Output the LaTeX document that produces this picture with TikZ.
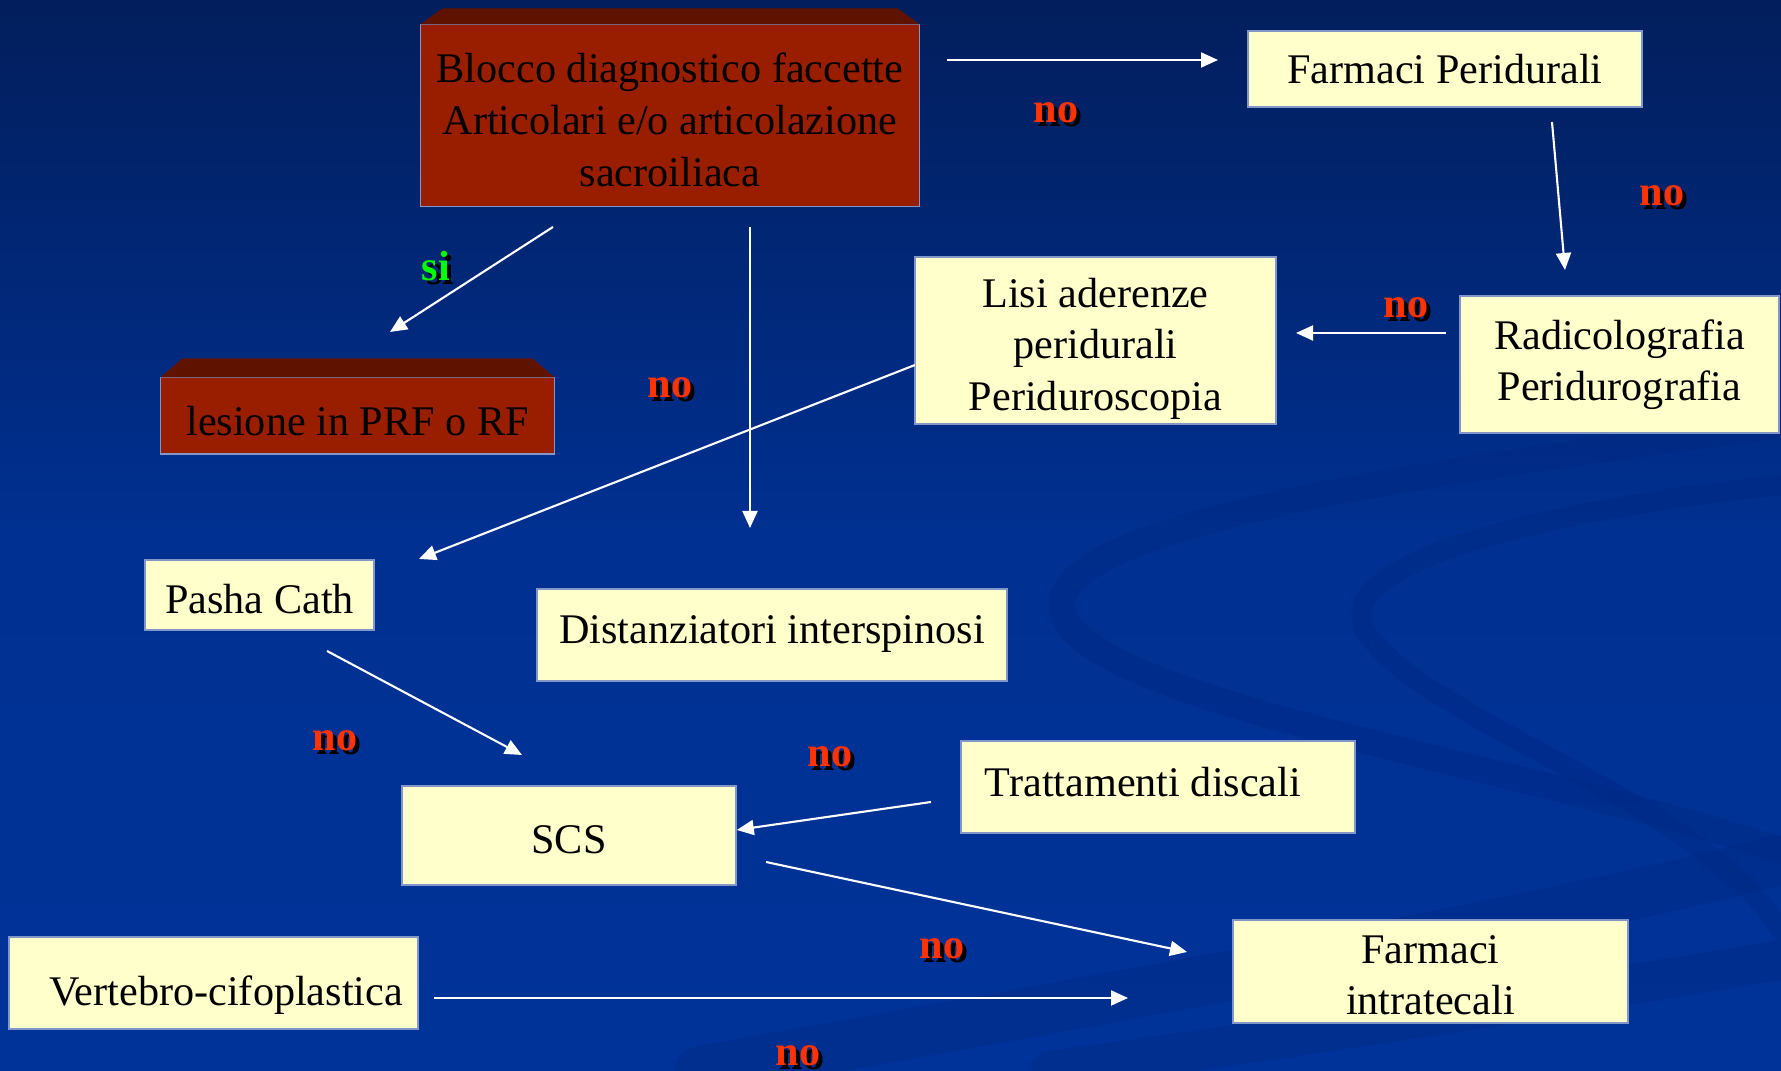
\documentclass[tikz,border=0pt]{standalone}
\usepackage{fontspec}
\setmainfont{Liberation Serif}
\usepackage{tikz}
\usetikzlibrary{arrows.meta,calc}
\definecolor{bg_top}		{RGB}{2,30,92}
\definecolor{bg_mid}		{RGB}{0,48,145}
\definecolor{bg_bot}		{RGB}{0,51,153}
\definecolor{swirl_blue}	{RGB}{0,38,125}
\definecolor{cream_yellow}	{RGB}{255,255,204}
\definecolor{box_edge}		{RGB}{130,150,200}
\definecolor{brick_red}		{RGB}{153,30,0}
\definecolor{brick_top}		{RGB}{96,18,0}
\definecolor{no_red}		{RGB}{255,51,0}
\definecolor{si_green}		{RGB}{0,255,0}
\newcommand{\shtext}[1]{\makebox[0pt][l]{\kern1.2pt\raisebox{-1.2pt}{\color{black}#1}}#1}
\newcommand{\txt}[2][0pt]{\raisebox{-#1}[\height][\depth]{\begin{tabular}{@{}c@{}}#2\end{tabular}}}

\begin{document}
\begin{tikzpicture}[x=0.01cm, y=-0.01cm,
		boxY/.style   = {draw = box_edge,
			rectangle,
			fill           = cream_yellow,
			align          = center,
			line width     = 0.4pt,
			font = \fontsize{12}{14.6}\selectfont,
			inner sep      = 0pt},
		boxR/.style   = {draw = box_edge,
			rectangle,
			fill           = brick_red,
			align          = center,
			line width     = 0.3pt,
			font = \fontsize{12}{14.8}\selectfont,
			inner sep      = 0pt},
		lblNo/.style  = {font = \fontsize{12}{14}\selectfont\bfseries, text = no_red},
		lblSi/.style  = {font = \fontsize{12}{14}\selectfont\bfseries, text = si_green},
		arr/.style    = {draw = white, line width = 0.6pt,
			-{Triangle[length=0.17cm, width=0.15cm]}}]
		
		% background
		\useasboundingbox (0,0) rectangle (1781,1071);
		\shade[top color=bg_top, bottom color=bg_bot, middle color=bg_mid] (0,0) rectangle (1781,1071);
		\begin{scope}[swirl_blue, opacity=0.3, line cap=round]
			\draw[line width=0.26cm] (1781,425) .. controls (1450,470) and (1050,520) .. (1062,610)
				.. controls (1080,700) and (1500,760) .. (1781,850);
			\draw[line width=0.2cm] (1781,485) .. controls (1550,510) and (1330,560) .. (1365,630)
				.. controls (1420,720) and (1700,800) .. (1781,930);
			\draw[line width=0.5cm] (700,1071) .. controls (1100,1000) and (1500,930) .. (1781,860);
			\draw[line width=0.4cm] (1050,1071) .. controls (1350,1030) and (1600,990) .. (1781,960);
		\end{scope}
		
		% red blocks
		\node[boxR, minimum width=4.98cm, minimum height=1.81cm] (blocco) at (670,115.5)
		{\txt[0.09cm]{Blocco diagnostico faccette \\ Articolari e/o articolazione \\ sacroiliaca}};
		\fill[brick_top] (blocco.north west) -- ++(22,-16) -- ($(blocco.north east)+(-22,-16)$)
			-- (blocco.north east) -- cycle;
		
		\node[boxR, minimum width=3.93cm, minimum height=0.76cm] (lesione) at (357.5,416)
		{\txt[0.09cm]{lesione in PRF o RF}};
		\fill[brick_top] (lesione.north west) -- ++(22,-19) -- ($(lesione.north east)+(-22,-19)$)
			-- (lesione.north east) -- cycle;
		
		% yellow blocks
		\node[boxY, minimum width=3.94cm, minimum height=0.76cm] (farmp) at (1445,69)
		{Farmaci Peridurali};
		\node[boxY, minimum width=3.19cm, minimum height=1.37cm] (radico) at (1619.5,364.5)
		{Radicolografia \\ Peridurografia};
		\node[boxY, minimum width=3.61cm, minimum height=1.67cm] (lisi) at (1095.5,340.5)
		{\txt[0.08cm]{Lisi aderenze \\ peridurali \\ Periduroscopia}};
		\node[boxY, minimum width=2.29cm, minimum height=0.70cm] (pasha) at (259.5,595)
		{\txt[0.08cm]{Pasha Cath}};
		\node[boxY, minimum width=4.70cm, minimum height=0.92cm] (distanz) at (772,635)
		{\txt[-0.02cm]{Distanziatori interspinosi}};
		\node[boxY, minimum width=3.94cm, minimum height=0.92cm] (tratt) at (1158,787)
		{\txt[-0.01cm]{Trattamenti discali}\hspace*{0.3cm}};
		\node[boxY, minimum width=3.34cm, minimum height=0.99cm] (scs) at (569,835.5)
		{\txt[0.08cm]{SCS}};
		\node[boxY, minimum width=4.09cm, minimum height=0.92cm] (vertebro) at (213.5,983)
		{\hspace*{0.25cm}\txt[0.125cm]{Vertebro-cifoplastica}};
		\node[boxY, minimum width=3.95cm, minimum height=0.99cm] (farmi) at (1430.5,971.5)
		{\txt[0.075cm]{Farmaci \\ intratecali}};
		
		% arrow ends
		\coordinate (a0) at (947,60);   \coordinate (b0) at (1218,60);
		\coordinate (a1) at (1552,122); \coordinate (b1) at (1565,270);
		\coordinate (a2) at (1446,333); \coordinate (b2) at (1296,333);
		\coordinate (a3) at (553,227);  \coordinate (b3) at (390,332);
		\coordinate (a4) at (750,227);  \coordinate (b4) at (750,528);
		\coordinate (a5) at (915,365);  \coordinate (b5) at (419,559);
		\coordinate (a6) at (327,651);  \coordinate (b6) at (522,755);
		\coordinate (a7) at (931,802);
		\coordinate (a8) at (766,862);  \coordinate (b8) at (1187,952);
		\coordinate (a9) at (434,998);  \coordinate (b9) at (1128,998);
		
		\draw[arr] (a0) -- (b0);
		\draw[arr] (a1) -- (b1);
		\draw[arr] (a2) -- (b2);
		\draw[arr] (a3) -- (b3);
		\draw[arr] (a4) -- (b4);
		\draw[arr] (a5) -- (b5);
		\draw[arr] (a6) -- (b6);
		\draw[arr] (a7) -- (scs.east |- 0,830);
		\draw[arr] (a8) -- (b8);
		\draw[arr] (a9) -- (b9);
		
		% labels
		\node[lblSi] (si)  at (436,268)  {\shtext{si}};
		\node[lblNo] (no1) at (1056,115) {\shtext{no}};
		\node[lblNo] (no2) at (1662,198) {\shtext{no}};
		\node[lblNo] (no3) at (1406,310) {\shtext{no}};
		\node[lblNo] (no4) at (670,390)  {\shtext{no}};
		\node[lblNo] (no5) at (335,743)  {\shtext{no}};
		\node[lblNo] (no6) at (830,759)  {\shtext{no}};
		\node[lblNo] (no7) at (942,951)  {\shtext{no}};
		\node[lblNo] (no8) at (798,1058) {\shtext{no}};
		
	\end{tikzpicture}
\end{document}
